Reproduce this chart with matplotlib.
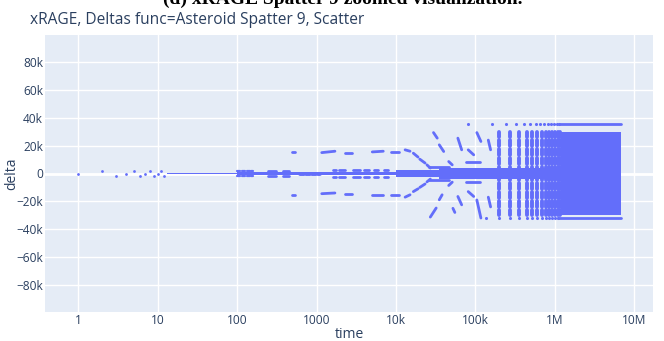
import matplotlib
matplotlib.use("Agg")
import matplotlib.pyplot as plt
from matplotlib.ticker import FixedLocator, FuncFormatter

# ---------------- data (delta values in thousands) ----------------
# isolated early samples
early_time = [1, 2, 3, 4, 5, 6, 7, 8, 9, 10, 11, 12]
early_delta = [0, 2.1, -1.7, 0, 2.0, -1.7, 0, 2.0, -1.9, 0, 2.0, -1.9]

# trace hugging zero: segment start, end and half thickness
core_t0 = [13, 100, 1000, 10e3, 35e3]
core_t1 = [100, 1000, 10e3, 35e3, 1.2e6]
core_half = [0.7, 0.8, 1.1, 2.2, 3.6]

# short runs of samples: start time, end time, start delta, end delta
run_t0 = [100, 115, 132, 148, 100, 115, 132, 148,
          242, 242, 378, 378,
          618, 740, 880, 1030,
          1600, 1900, 2900, 4000, 5200, 7000,
          1600, 1900, 2900, 4000, 5200, 7000,
          490, 490,
          1160, 1160, 2280, 2280, 5020, 5020, 8650, 8650,
          13000, 16500, 19900, 24500,
          13000, 16500, 19900, 24500,
          29600, 35000, 46000,
          27000, 35000, 46000,
          26000, 26000, 77000, 77000,
          60000, 52000, 60000,
          81000, 81000,
          104000, 104000,
          145000, 145000]
run_t1 = [110, 127, 145, 159, 110, 127, 145, 159,
          308, 308, 450, 450,
          690, 830, 980, 1100,
          1750, 2300, 3500, 4600, 6000, 8000,
          1750, 2300, 3500, 4600, 6000, 8000,
          530, 530,
          1700, 1700, 2820, 2820, 6900, 6900, 10900, 10900,
          15000, 18900, 23200, 27000,
          15000, 18900, 23200, 27000,
          33000, 39800, 51000,
          32000, 38000, 51000,
          46000, 46000, 113000, 113000,
          67000, 55000, 67000,
          95000, 95000,
          117000, 117000,
          155000, 155000]
run_d0 = [2.0, 2.0, 2.0, 2.0, -1.9, -1.9, -1.9, -1.9,
          2.0, -1.9, 2.0, -1.9,
          0, 0, 0, 0,
          2.2, 2.2, 2.2, 2.2, 2.4, 2.4,
          -2.2, -2.2, -2.2, -2.2, -2.4, -2.4,
          15.8, -15.3,
          15.0, -14.5, 15.0, -15.0, 15.5, -15.8, 15.3, -15.3,
          17.0, 14.6, 10.3, 6.2,
          -17.0, -13.0, -10.0, -6.0,
          29.4, 20.6, 8.6,
          -31.3, -18.9, -8.6,
          5.0, -4.5, 8.6, -6.0,
          25.4, -25.0, -16.5,
          17.0, -13.0,
          29.4, -19.0,
          24.0, -17.0]
run_d1 = [2.0, 2.0, 2.0, 2.0, -1.9, -1.9, -1.9, -1.9,
          2.0, -1.9, 2.0, -1.9,
          0, 0, 0, 0,
          2.2, 2.2, 2.2, 2.2, 2.4, 2.4,
          -2.2, -2.2, -2.2, -2.2, -2.4, -2.4,
          15.8, -15.3,
          16.0, -14.0, 15.0, -15.0, 16.0, -15.8, 15.3, -15.3,
          16.0, 11.8, 7.5, 3.9,
          -15.3, -11.0, -7.5, -4.0,
          25.4, 15.8, 6.2,
          -24.8, -15.3, -6.2,
          5.0, -4.5, 8.6, -6.0,
          17.0, -28.0, -22.5,
          13.4, -16.5,
          23.0, -32.0,
          17.0, -24.0]
run_width = [1.6] * 8 + [2.0] * 4 + [2.8] * 4 + [2.0] * 12 + [2.0] * (len(run_t0) - 28)

# regularly spaced columns of samples before the field saturates
column_time = [195e3, 272e3, 357e3, 441e3, 519e3, 600e3, 683e3, 765e3,
               847e3, 928e3, 1010e3, 1092e3, 1174e3]
column_lo = [26.0, 19.5, 13.0, 7.0, -5.0, -11.0, -17.5, -24.0, -30.0]
column_hi = [29.5, 24.0, 17.5, 11.0, 5.0, -7.0, -13.0, -19.5, -26.0]

# saturated field
field_t0, field_t1 = 1.2e6, 6.83e6
field_lo, field_hi = -30.0, 29.5

# upper and lower rails
upper_rail_time = [81.5e3, 163e3, 244.5e3, 326e3, 407.5e3, 489e3, 570.5e3,
                   652e3, 733.5e3, 815e3, 896.5e3, 978e3, 1059.5e3, 1141e3]
upper_rail_delta = 35.8
lower_rail_time = [136e3, 195e3, 272e3, 357e3, 441e3, 519e3, 600e3, 683e3,
                   765e3, 847e3, 928e3, 1010e3, 1092e3]
lower_rail_delta = -32.0
rail_t1 = 6.83e6

x_ticks = [1, 10, 100, 1000, 1e4, 1e5, 1e6, 1e7]
x_tick_labels = ["1", "10", "100", "1000", "10k", "100k", "1M", "10M"]
y_ticks = [-80, -60, -40, -20, 0, 20, 40, 60, 80]

# ---------------- drawing ----------------
plt.rcParams["font.family"] = ["Open Sans", "DejaVu Sans"]
BLUE = "#636EFA"
INK = "#2A3F5F"
K = 1000.0

fig = plt.figure(figsize=(6.64, 3.41), dpi=100)
ax = fig.add_axes([45 / 664, 29 / 341, 608 / 664, 277 / 341])
ax.set_facecolor("#E5ECF6")
ax.set_xscale("log")
ax.set_xlim(10 ** -0.42, 10 ** 7.235)
ax.set_ylim(-99.5 * K, 99.5 * K)

for s in ax.spines.values():
    s.set_visible(False)
ax.xaxis.set_major_locator(FixedLocator(x_ticks))
ax.xaxis.set_minor_locator(FixedLocator([]))
ax.set_xticklabels(x_tick_labels)
ax.yaxis.set_major_locator(FixedLocator([v * K for v in y_ticks]))
ax.yaxis.set_major_formatter(FuncFormatter(
    lambda v, p: "0" if abs(v) < 1 else f"{int(round(v / K))}k".replace("-", "\u2212")))
ax.grid(True, color="white", linewidth=1.0)
ax.axhline(0, color="white", linewidth=2.0, zorder=1)
ax.set_axisbelow(True)
ax.tick_params(length=0, labelsize=8.6, labelcolor=INK)
ax.tick_params(axis="x", pad=1.5)
ax.tick_params(axis="y", pad=1.5)
ax.set_xlabel("time", fontsize=10, color=INK, labelpad=0)
ax.set_ylabel("delta", fontsize=10, color=INK)
ax.yaxis.set_label_coords((19 - 45) / 608, 0.5)

kw = dict(color=BLUE, solid_capstyle="round", zorder=3)

# early samples
ax.scatter(early_time, [d * K for d in early_delta], s=4, color=BLUE, lw=0, zorder=3)

# zero-hugging trace
for t0, t1, h in zip(core_t0, core_t1, core_half):
    ax.fill_between([t0, t1], -h * K, h * K, color=BLUE, lw=0, zorder=3)

# short runs
for t0, t1, d0, d1, w in zip(run_t0, run_t1, run_d0, run_d1, run_width):
    ax.plot([t0, t1], [d0 * K, d1 * K], lw=w, **kw)

# columns
for t in column_time:
    for lo, hi in zip(column_lo, column_hi):
        ax.plot([t, t], [lo * K, hi * K], lw=2.8, **kw)

# saturated field
ax.fill_between([field_t0, field_t1], field_lo * K, field_hi * K, color=BLUE, lw=0, zorder=3)

# rails
ax.scatter(upper_rail_time, [upper_rail_delta * K] * len(upper_rail_time), s=5, color=BLUE, lw=0, zorder=3)
ax.plot([upper_rail_time[-1], rail_t1], [upper_rail_delta * K] * 2, lw=2.0, **kw)
ax.scatter(lower_rail_time, [lower_rail_delta * K] * len(lower_rail_time), s=5, color=BLUE, lw=0, zorder=3)
ax.plot([lower_rail_time[-1], rail_t1], [lower_rail_delta * K] * 2, lw=2.0, **kw)

# titles
fig.text(30 / 664, 1 - 20 / 341, "xRAGE, Deltas func=Asteroid Spatter 9, Scatter",
         fontsize=11.2, color=INK, va="center", ha="left")
fig.text(343 / 664, 1 - 4 / 341, "(d) xRAGE Spatter 9 zoomed visualization.",
         fontsize=14, fontweight="bold", family=["Liberation Serif", "DejaVu Serif"],
         color="black", ha="center", va="baseline")

fig.savefig("out.png", dpi=100)
